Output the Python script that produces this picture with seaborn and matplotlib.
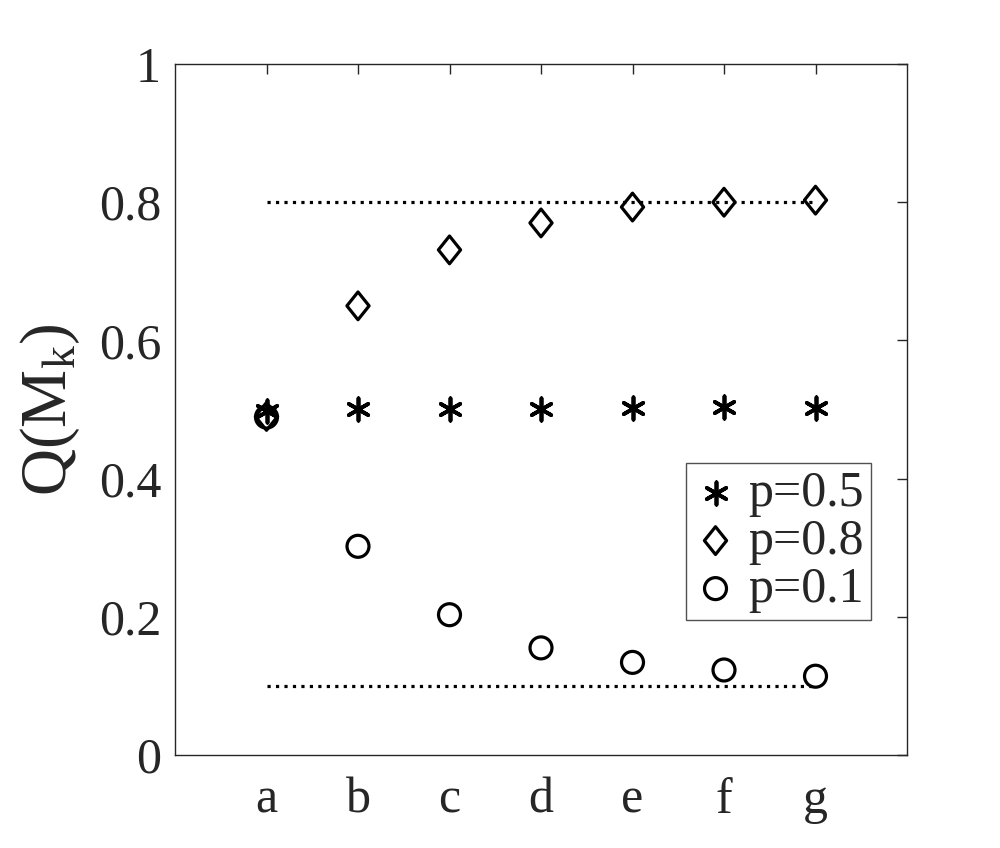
import numpy as np
import pandas as pd
import matplotlib
matplotlib.use("Agg")
import matplotlib.pyplot as plt
from matplotlib.path import Path
import seaborn as sns

sns.set_style("white")
plt.rcParams['font.family'] = ['Liberation Serif', 'DejaVu Serif']
plt.rcParams['mathtext.fontset'] = 'custom'
plt.rcParams['mathtext.rm'] = 'Liberation Serif'
plt.rcParams['mathtext.it'] = 'Liberation Serif'

# --------------------------------
# Data
# --------------------------------
categories = ['a', 'b', 'c', 'd', 'e', 'f', 'g']
q_p05 = [0.498, 0.500, 0.500, 0.500, 0.502, 0.503, 0.502]
q_p08 = [0.490, 0.650, 0.731, 0.770, 0.793, 0.800, 0.803]
q_p01 = [0.489, 0.302, 0.203, 0.155, 0.134, 0.123, 0.114]
limits = [0.8, 0.1]

pos = np.arange(1, len(categories) + 1)
ink = '#262626'

# MATLAB-style diamond (a bit taller than wide)
diamond = Path([(0, 1), (0.8, 0), (0, -1), (-0.8, 0), (0, 1)],
               [Path.MOVETO, Path.LINETO, Path.LINETO, Path.LINETO, Path.CLOSEPOLY])

# --------------------------------
# Plot
# --------------------------------
fig = plt.figure(figsize=(10, 8.48), dpi=100)
ax = fig.add_axes([0.175, 0.1097, 0.732, 0.8148])

for lv in limits:
    sns.lineplot(x=[pos[0], pos[-1]], y=[lv, lv], ax=ax, color='black',
                 linestyle=':', linewidth=2.3, zorder=1)

sns.scatterplot(x=pos, y=q_p08, ax=ax, marker=diamond, s=400,
                facecolor='none', edgecolor='black', linewidth=2.3,
                label='p=0.8', zorder=3)
sns.scatterplot(x=pos, y=q_p01, ax=ax, marker='o', s=250,
                facecolor='none', edgecolor='black', linewidth=2.3,
                label='p=0.1', zorder=3)
sns.scatterplot(x=pos, y=q_p05, ax=ax, marker=(6, 2, 0), s=260,
                color='black', edgecolor='black', linewidth=2.7,
                label='p=0.5', zorder=4)

ax.set_xlim(0, 8)
ax.set_ylim(0, 1)
ax.set_xticks(pos)
ax.set_xticklabels(categories)
ax.set_yticks([0, 0.2, 0.4, 0.6, 0.8, 1])
ax.set_yticklabels(['0', '0.2', '0.4', '0.6', '0.8', '1'])
ax.tick_params(direction='in', length=7, width=1, colors=ink,
               labelsize=36, top=True, right=True, pad=10)
ax.tick_params(axis='x', pad=16)
for sp in ax.spines.values():
    sp.set_visible(True)
    sp.set_color(ink)
    sp.set_linewidth(1)

ax.set_ylabel(r'Q(M$_\mathregular{k}$)', fontsize=47, color=ink, labelpad=12)

# legend in the order p=0.5, p=0.8, p=0.1
handles, labels = ax.get_legend_handles_labels()
order = [labels.index(l) for l in ['p=0.5', 'p=0.8', 'p=0.1']]
leg = ax.legend([handles[i] for i in order], [labels[i] for i in order],
                loc='lower right', bbox_to_anchor=(0.951, 0.195),
                fontsize=36, frameon=True, fancybox=False,
                handletextpad=0.2, borderpad=0.15, labelspacing=0.03,
                handlelength=0.9, borderaxespad=0)
leg.get_frame().set_edgecolor(ink)
leg.get_frame().set_linewidth(1)

plt.savefig("out.png", dpi=100)
